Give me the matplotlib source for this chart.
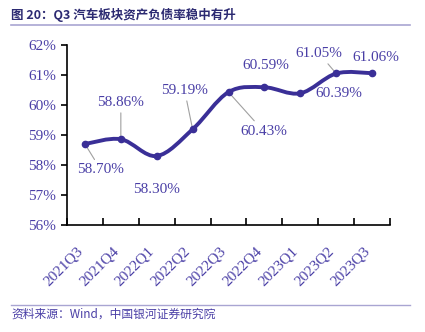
import matplotlib
matplotlib.use("Agg")
import matplotlib.pyplot as plt
import matplotlib.transforms as mtransforms
import numpy as np
from matplotlib.path import Path
from matplotlib.patches import PathPatch
from matplotlib.ticker import FixedLocator, NullFormatter, FixedFormatter

quarters = ["2021Q3", "2021Q4", "2022Q1", "2022Q2", "2022Q3",
            "2022Q4", "2023Q1", "2023Q2", "2023Q3"]
debt_ratio = [58.70, 58.86, 58.30, 59.19, 60.43, 60.59, 60.39, 61.05, 61.06]
labels = ["58.70%", "58.86%", "58.30%", "59.19%", "60.43%",
          "60.59%", "60.39%", "61.05%", "61.06%"]
yticks = [56, 57, 58, 59, 60, 61, 62]

LINE = "#3a2f97"
TXT = "#4a3fa6"
TITLE = "#2c2a72"
RULE = "#a9a5d2"
cjk = ["Noto Sans CJK SC", "DejaVu Sans"]
serif = "Liberation Serif"

fig = plt.figure(figsize=(4.25, 3.32), dpi=100)
ax = fig.add_axes([67 / 425, 1 - 225 / 332, 323 / 425, 180 / 332])

x = np.arange(len(debt_ratio))
y = np.array(debt_ratio)

# smoothed line (catmull-rom -> bezier)
px = np.concatenate([[x[0]], x, [x[-1]]])
py = np.concatenate([[y[0]], y, [y[-1]]])
verts = [(x[0], y[0])]
codes = [Path.MOVETO]
for i in range(1, len(px) - 2):
    c1 = (px[i] + (px[i + 1] - px[i - 1]) / 6, py[i] + (py[i + 1] - py[i - 1]) / 6)
    c2 = (px[i + 1] - (px[i + 2] - px[i]) / 6, py[i + 1] - (py[i + 2] - py[i]) / 6)
    verts += [c1, c2, (px[i + 1], py[i + 1])]
    codes += [Path.CURVE4] * 3
ax.add_patch(PathPatch(Path(verts, codes), fill=False, edgecolor=LINE, lw=2.8,
                       capstyle="round", joinstyle="round", zorder=3))
ax.plot(x, y, "o", color=LINE, ms=4.5, zorder=4)

# label offsets in pixels (dx, dy) and whether to draw a leader
offsets = [(16, -26, True), (0, 37, True), (0, -34, False), (-8, 39, True),
           (35, -39, True), (1, 22, False), (39, 0, False), (-17, 20, True),
           (4, 16, False)]
for xi, yi, lab, (dx, dy, lead) in zip(x, y, labels, offsets):
    arrow = None
    if lead:
        arrow = dict(arrowstyle="-", color="#a0a0a0", lw=0.8, shrinkA=-1, shrinkB=0)
    ax.annotate(lab, (xi, yi), xytext=(dx * 0.72, dy * 0.72),
                textcoords="offset points", ha="center", va="center",
                fontsize=11, family=serif, color=TXT, arrowprops=arrow)

ax.set_xlim(-0.5, len(x) - 0.5)
ax.set_ylim(56, 62)
ax.set_yticks(yticks)
ax.set_yticklabels([f"{t}%" for t in yticks], family=serif, fontsize=11, color=TXT)
ax.tick_params(axis="y", direction="out", length=4, width=1.2, pad=4)

ax.xaxis.set_major_locator(FixedLocator(np.arange(-0.5, len(x), 1.0)))
ax.xaxis.set_major_formatter(NullFormatter())
ax.xaxis.set_minor_locator(FixedLocator(x))
ax.xaxis.set_minor_formatter(FixedFormatter(quarters))
ax.tick_params(axis="x", which="major", direction="in", length=5, width=1.2)
ax.tick_params(axis="x", which="minor", length=0, pad=14)
shift = mtransforms.ScaledTranslation(-0.09, 0, fig.dpi_scale_trans)
for t in ax.xaxis.get_minorticklabels():
    t.set_rotation(45)
    t.set_ha("right")
    t.set_va("top")
    t.set_rotation_mode("anchor")
    t.set_family(serif)
    t.set_fontsize(11)
    t.set_color(TXT)
    t.set_transform(t.get_transform() + shift)

for s in ["top", "right"]:
    ax.spines[s].set_visible(False)
for s in ["left", "bottom"]:
    ax.spines[s].set_linewidth(1.2)
    ax.spines[s].set_color("black")
ax.patch.set_visible(False)

# title and source
fig.text(11 / 425, 1 - 15 / 332, "图 20：Q3 汽车板块资产负债率稳中有升", family=cjk,
         fontsize=9, fontweight="bold", color=TITLE, ha="left", va="center")
fig.add_artist(plt.Line2D([11 / 425, 410 / 425], [1 - 25 / 332] * 2, color=RULE, lw=1.2))
fig.add_artist(plt.Line2D([11 / 425, 410 / 425], [1 - 305 / 332] * 2, color=RULE, lw=1.0))
fig.text(11 / 425, 1 - 314 / 332, "资料来源：Wind，中国银河证券研究院", family=cjk,
         fontsize=8.5, style="italic", color=TXT, ha="left", va="center")

fig.savefig("out.png", dpi=100)
